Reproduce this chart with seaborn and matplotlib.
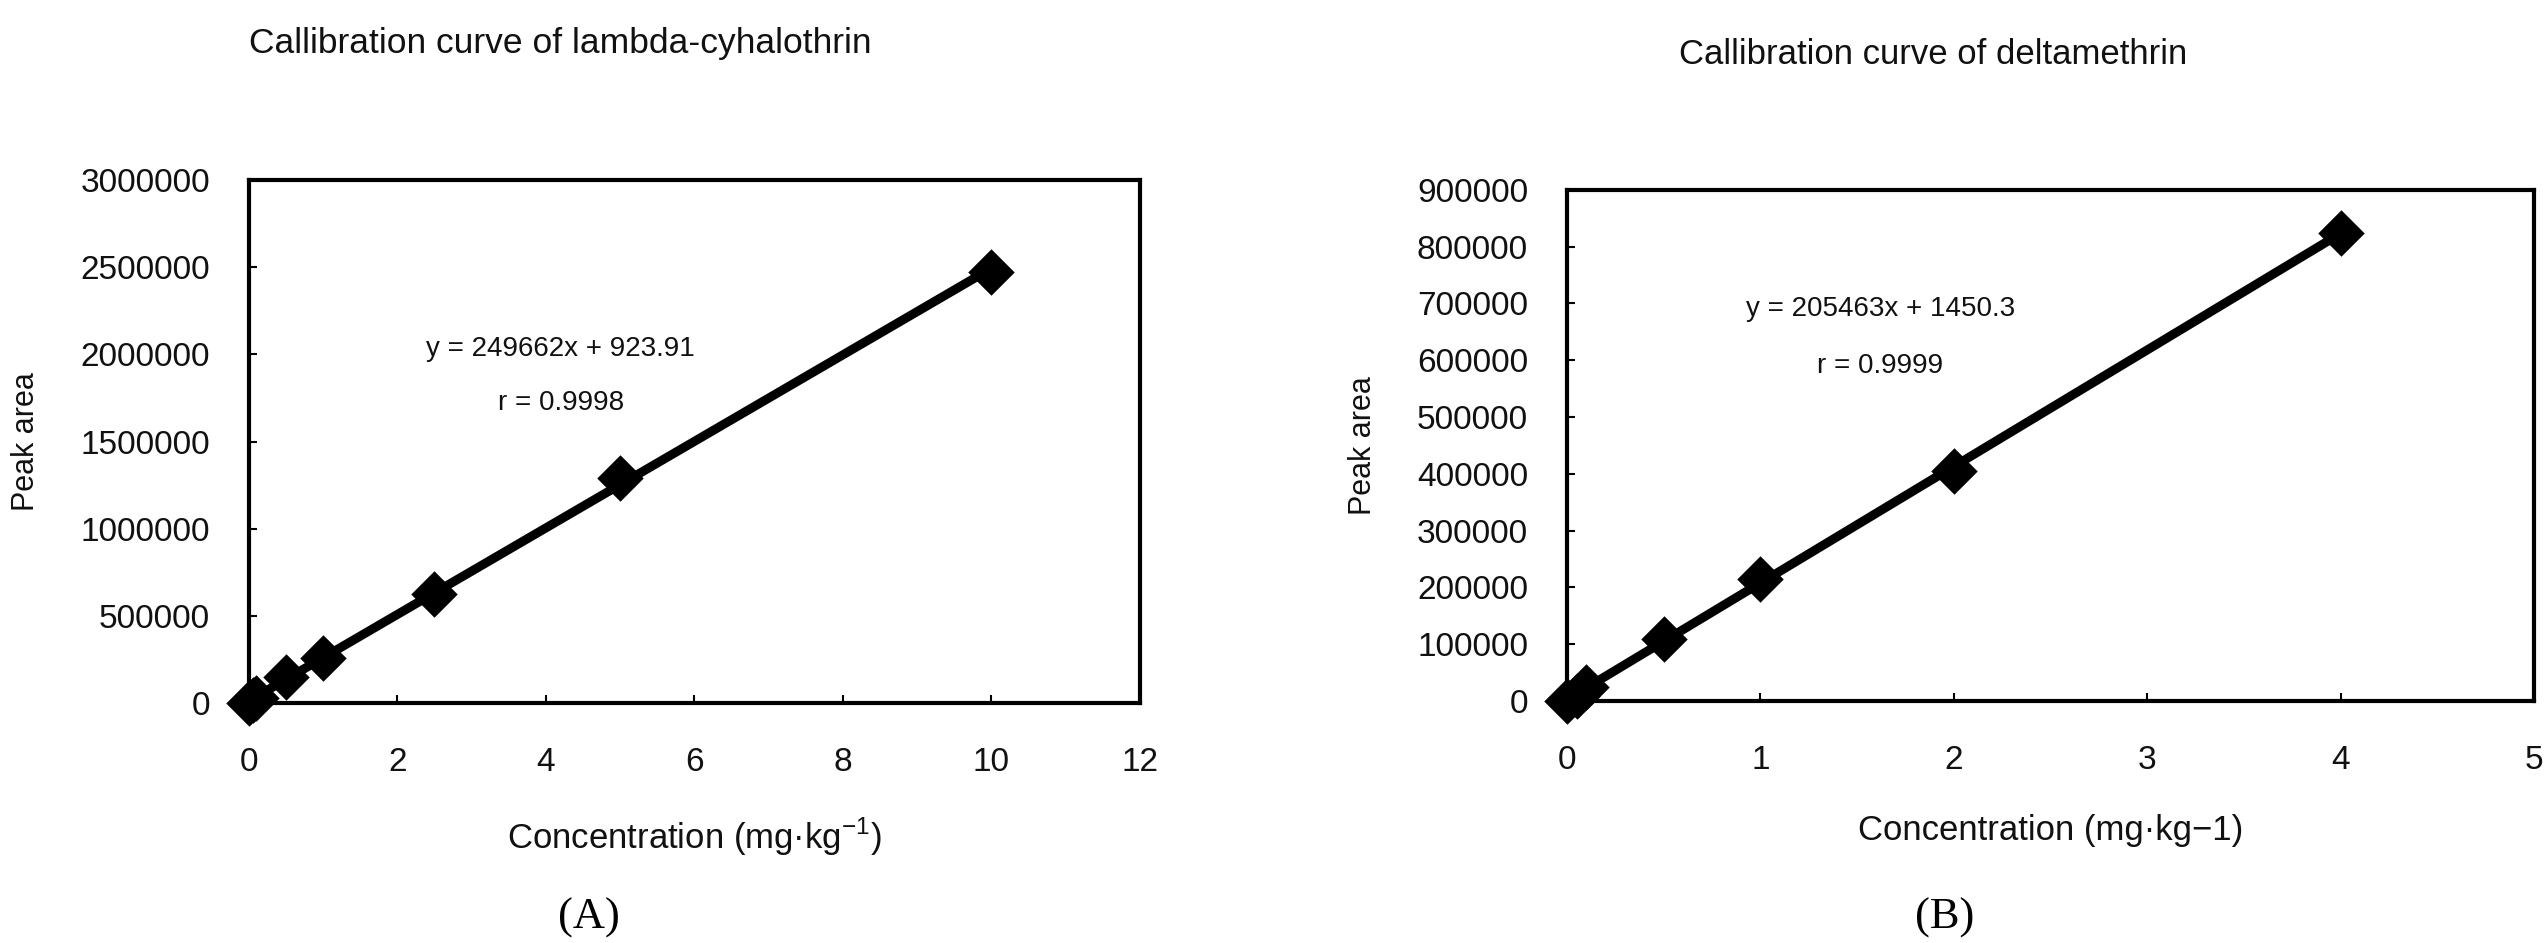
import numpy as np
import pandas as pd
import matplotlib
matplotlib.use("Agg")
import matplotlib.pyplot as plt
import seaborn as sns

# ---- data ----
conc_lambda = [0, 0.05, 0.1, 0.5, 1, 2.5, 5, 10]
area_lambda = [0, 15000, 30000, 150000, 260000, 625000, 1290000, 2475000]

conc_delta = [0, 0.05, 0.1, 0.5, 1, 2, 4]
area_delta = [0, 8000, 25000, 110000, 215000, 405000, 825000]

xticks_lambda = [0, 2, 4, 6, 8, 10, 12]
yticks_lambda = [0, 500000, 1000000, 1500000, 2000000, 2500000, 3000000]
xticks_delta = [0, 1, 2, 3, 4, 5]
yticks_delta = [0, 100000, 200000, 300000, 400000, 500000, 600000, 700000, 800000, 900000]

eq_lambda = ["y = 249662x + 923.91", "r = 0.9998"]
eq_delta = ["y = 205463x + 1450.3", "r = 0.9999"]

sns.set_theme(style="white")
plt.rcParams['font.family'] = ['Liberation Sans', 'DejaVu Sans']
plt.rcParams['mathtext.fontset'] = 'custom'
plt.rcParams['mathtext.rm'] = 'Liberation Sans'

fig = plt.figure(figsize=(25.45, 9.43), dpi=100)
ax1 = fig.add_axes([0.0978, 0.2545, 0.350, 0.5546])
ax2 = fig.add_axes([0.6157, 0.2566, 0.380, 0.542])


def draw_panel(ax, x, y, xt, yt, xmax, ymax, eq, eq_pos, xlabel):
    df = pd.DataFrame({"x": x, "y": y})
    sns.regplot(data=df, x="x", y="y", ax=ax, ci=None, marker="D", color="black",
                scatter_kws=dict(s=560, alpha=1, clip_on=False, zorder=4,
                                 edgecolor="black", linewidths=0),
                line_kws=dict(lw=6.5, solid_capstyle="butt", zorder=3))
    ax.set_xlim(0, xmax)
    ax.set_ylim(0, ymax)
    ax.set_xticks(xt)
    ax.set_yticks(yt)
    ax.set_xticklabels([str(v) for v in xt])
    ax.set_yticklabels([str(v) for v in yt])
    ax.tick_params(direction="in", length=6, width=1.5, color="black",
                   labelsize=24, labelcolor="#111111", bottom=True, left=True)
    ax.tick_params(axis="y", pad=28)
    ax.tick_params(axis="x", pad=32)
    for s in ax.spines.values():
        s.set_color("black")
        s.set_linewidth(3)
    ax.set_xlabel(xlabel, fontsize=25, labelpad=27, color="#111111")
    ax.set_ylabel("Peak area", fontsize=22, labelpad=28, color="#111111")
    ax.text(eq_pos[0], eq_pos[1], eq[0], fontsize=20, ha="center", va="center", color="#111111")
    ax.text(eq_pos[0], eq_pos[2], eq[1], fontsize=20, ha="center", va="center", color="#111111")


draw_panel(ax1, conc_lambda, area_lambda, xticks_lambda, yticks_lambda, 12, 3000000,
           eq_lambda, (4.2, 2030000, 1720000), r"Concentration (mg·kg$^{\mathregular{-1}}$)")
draw_panel(ax2, conc_delta, area_delta, xticks_delta, yticks_delta, 5, 900000,
           eq_delta, (1.62, 690000, 590000), "Concentration (mg·kg−1)")

fig.text(560 / 2545, 1 - 44 / 943, "Callibration curve of lambda-cyhalothrin",
         fontsize=25.5, ha="center", va="center", color="#111111")
fig.text(1933 / 2545, 1 - 54 / 943, "Callibration curve of deltamethrin",
         fontsize=25, ha="center", va="center", color="#111111")

fig.text(589 / 2545, 1 - 918 / 943, "(A)", family="Liberation Serif", fontsize=32,
         ha="center", va="center", color="black")
fig.text(1945 / 2545, 1 - 918 / 943, "(B)", family="Liberation Serif", fontsize=32,
         ha="center", va="center", color="black")

fig.savefig("out.png", dpi=100, facecolor="white")
